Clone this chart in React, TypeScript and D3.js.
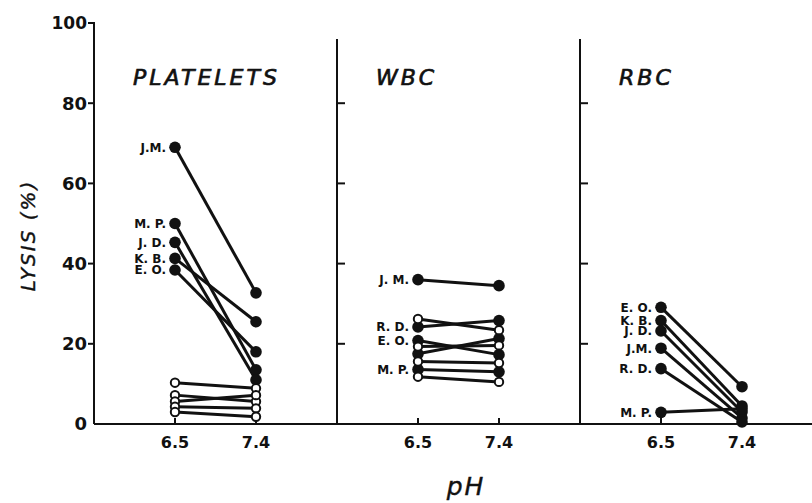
import React from "react";
import * as d3 from "d3";

const panelTitles = ["PLATELETS", "WBC", "RBC"];
const phTicks = [6.5, 7.4];
const lysisTicks = [0, 20, 40, 60, 80, 100];

// Platelets
const plateletNames = ["J.M.", "M. P.", "J. D.", "K. B.", "E. O.", "", "", "", "", ""];
const plateletPh65 = [69, 50, 45.3, 41.3, 38.4, 10.3, 7.2, 5.6, 4.3, 3.0];
const plateletPh74 = [32.7, 13.5, 11.0, 25.5, 18.0, 8.9, 5.6, 7.2, 3.9, 1.8];
const plateletFilled = [true, true, true, true, true, false, false, false, false, false];

// WBC
const wbcNames = ["J. M.", "R. D.", "E. O.", "M. P.", "", "", "", "", ""];
const wbcPh65 = [36, 24.2, 20.8, 13.6, 17.5, 26.2, 19.3, 15.6, 11.8];
const wbcPh74 = [34.5, 25.8, 17.3, 13.0, 21.3, 23.4, 19.6, 15.2, 10.5];
const wbcFilled = [true, true, true, true, true, false, false, false, false];

// RBC
const rbcNames = ["E. O.", "K. B.", "J. D.", "J.M.", "R. D.", "M. P."];
const rbcPh65 = [29.1, 25.8, 23.2, 18.9, 13.8, 2.9];
const rbcPh74 = [9.3, 4.5, 3.0, 1.5, 0.5, 3.8];
const rbcFilled = [true, true, true, true, true, true];

const W = 812;
const H = 503;
const AXIS_X = 94;
const PANEL_W = 243;
const INK = "#111";
const FONT = "'DejaVu Sans', sans-serif";

type Subject = { name: string; a: number; b: number; filled: boolean };

function build(names: string[], a: number[], b: number[], f: boolean[]): Subject[] {
  return names.map((n, i) => ({ name: n, a: a[i], b: b[i], filled: f[i] }));
}

const panelData: Subject[][] = [
  build(plateletNames, plateletPh65, plateletPh74, plateletFilled),
  build(wbcNames, wbcPh65, wbcPh74, wbcFilled),
  build(rbcNames, rbcPh65, rbcPh74, rbcFilled),
];

export default function App() {
  const y = d3.scaleLinear().domain([0, 100]).range([424, 23]);
  const xs = panelTitles.map((_, i) =>
    d3.scaleLinear().domain([5.6, 8.3]).range([AXIS_X + i * PANEL_W, AXIS_X + (i + 1) * PANEL_W])
  );

  return (
    <svg
      width={W}
      height={H}
      style={{ position: "absolute", left: 0, top: 0, background: "#fff" }}
      fontFamily={FONT}
    >
      <rect x={0} y={0} width={W} height={H} fill="#fff" />
      {/* main y axis */}
      <line x1={AXIS_X} x2={AXIS_X} y1={y(100) - 1} y2={y(0)} stroke={INK} strokeWidth={2} />
      {lysisTicks.map((t) => (
        <g key={"yt" + t}>
          {t > 0 && <line x1={AXIS_X - 6} x2={AXIS_X} y1={y(t)} y2={y(t)} stroke={INK} strokeWidth={2} />}
          <text
            x={AXIS_X - 7}
            y={y(t)}
            dy="0.36em"
            textAnchor="end"
            fontSize={t === 100 ? 17 : 18}
            fontWeight="bold"
            fill={INK}
          >
            {t}
          </text>
        </g>
      ))}
      {/* baseline */}
      <line x1={AXIS_X} x2={W} y1={y(0)} y2={y(0)} stroke={INK} strokeWidth={2} />
      {/* y label */}
      <text
        transform={`translate(35, ${y(47)}) rotate(-90)`}
        textAnchor="middle"
        fontSize={20}
        fontStyle="italic"
        letterSpacing={2}
        fill={INK}
        stroke={INK}
        strokeWidth={0.4}
      >
        LYSIS (%)
      </text>
      {/* x label */}
      <text
        x={466}
        y={495}
        textAnchor="middle"
        fontSize={25}
        fontStyle="italic"
        letterSpacing={2}
        fill={INK}
        stroke={INK}
        strokeWidth={0.4}
      >
        pH
      </text>

      {panelTitles.map((title, i) => {
        const x = xs[i];
        const x0 = AXIS_X + i * PANEL_W;
        const data = panelData[i];
        return (
          <g key={title}>
            {i > 0 && (
              <g>
                <line x1={x0} x2={x0} y1={y(96)} y2={y(0)} stroke={INK} strokeWidth={2} />
                {lysisTicks
                  .filter((t) => t > 0 && t < 100)
                  .map((t) => (
                    <line key={t} x1={x0} x2={x0 + 8} y1={y(t)} y2={y(t)} stroke={INK} strokeWidth={2} />
                  ))}
              </g>
            )}
            <text
              x={x0 + 39}
              y={y(84.5)}
              fontSize={22}
              fontStyle="italic"
              letterSpacing={3}
              fill={INK}
              stroke={INK}
              strokeWidth={0.7}
            >
              {title}
            </text>
            {phTicks.map((p) => (
              <g key={p}>
                <line x1={x(p)} x2={x(p)} y1={y(0)} y2={y(0) - 6} stroke={INK} strokeWidth={2} />
                <text x={x(p)} y={448} textAnchor="middle" fontSize={16} fontWeight="bold" fill={INK}>
                  {p}
                </text>
              </g>
            ))}
            {data.map((d, j) => (
              <line
                key={"l" + j}
                x1={x(phTicks[0])}
                y1={y(d.a)}
                x2={x(phTicks[1])}
                y2={y(d.b)}
                stroke={INK}
                strokeWidth={3}
              />
            ))}
            {data.map((d, j) => (
              <g key={"c" + j}>
                {[d.a, d.b].map((v, k) =>
                  d.filled ? (
                    <circle key={k} cx={x(phTicks[k])} cy={y(v)} r={5.8} fill={INK} />
                  ) : (
                    <circle key={k} cx={x(phTicks[k])} cy={y(v)} r={4.2} fill="#fff" stroke={INK} strokeWidth={2} />
                  )
                )}
              </g>
            ))}
            {data
              .filter((d) => d.name)
              .map((d) => (
                <text
                  key={"n" + d.name}
                  x={x(phTicks[0]) - 9}
                  y={y(d.a)}
                  dy="0.36em"
                  textAnchor="end"
                  fontSize={12}
                  fontWeight="bold"
                  fill={INK}
                >
                  {d.name}
                </text>
              ))}
          </g>
        );
      })}
    </svg>
  );
}
